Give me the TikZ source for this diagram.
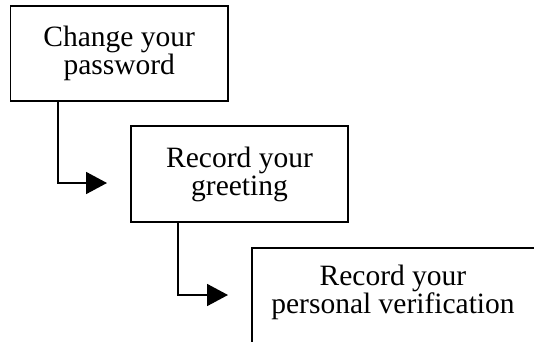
\documentclass[tikz,border=0pt]{standalone}
\usepackage{fontspec}
\setmainfont{Liberation Serif}
\usetikzlibrary{arrows.meta}
\begin{document}
\begin{tikzpicture}[x=1pt,y=1pt,
  stepbox/.style={draw, line width=1.8pt, align=center, inner sep=0pt,
    font=\fontsize{29.5}{28}\selectfont},
  arr/.style={line width=1.8pt, -{Triangle[length=21pt,width=22pt]}}]
\clip (0,0) rectangle (534,341);
\fill[white] (0,0) rectangle (534,341);
\node[stepbox, minimum width=217.5pt, minimum height=95pt] (b1) at (119.25,287.5) {Change your\\password};
\node[stepbox, minimum width=217pt, minimum height=96pt] (b2) at (239.5,167) {Record your\\greeting};
\node[stepbox, minimum width=286pt, minimum height=140pt, anchor=north west] (b3) at (251,94) {};
\node[align=center, inner sep=0pt, font=\fontsize{29.5}{28}\selectfont] (t3) at (393,49) {Record your\\personal verification};
\coordinate (e1) at (107,158);
\coordinate (e2) at (228,46);
\draw[arr] ([xshift=48.5pt]b1.south west) |- (e1);
\draw[arr] ([xshift=48pt]b2.south west) |- (e2);
\end{tikzpicture}
\end{document}
